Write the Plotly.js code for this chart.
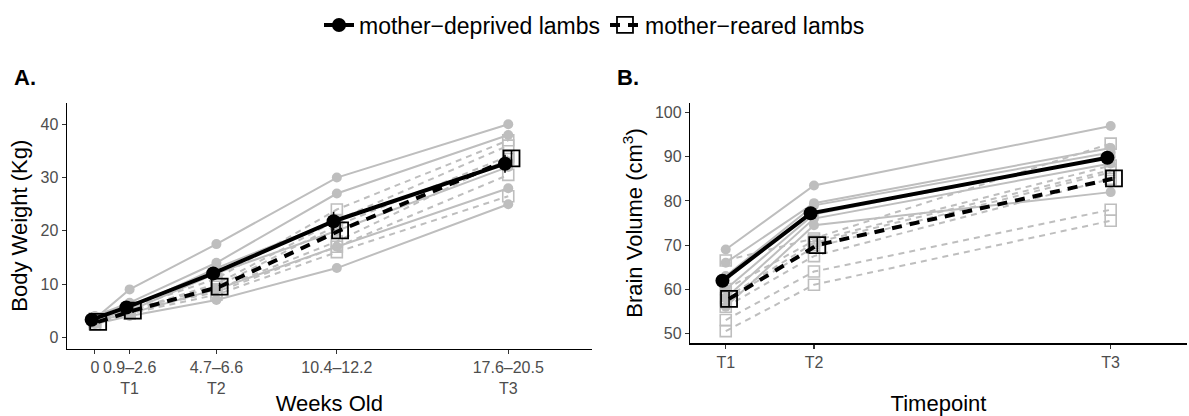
<!DOCTYPE html>
<html>
<head>
<meta charset="utf-8">
<script src="https://cdn.plot.ly/plotly-3.0.1.min.js"></script>
<style>
  html, body { margin: 0; padding: 0; background: #fff; }
  #chart { width: 1189px; height: 416px; }
</style>
</head>
<body>
<div id="chart"></div>
<script>
// ---------- data ----------
// Panel A: body weight (kg) by age (weeks)
const ageTickVals = [0, 1.6, 5.6, 11.15, 19.05];
const ageTickText = ['0', '0.9\u20132.6<br>T1', '4.7\u20136.6<br>T2', '10.4\u201312.2', '17.6\u201320.5<br>T3'];

const weightDeprived = [
  [3.5, 9.0, 17.5, 30.0, 40.0],
  [4.0, 6.5, 14.0, 27.0, 38.0],
  [3.0, 5.5, 13.0, 22.0, 33.0],
  [3.5, 5.0, 12.0, 20.0, 32.0],
  [3.0, 4.5, 9.0, 17.0, 28.0],
  [2.5, 4.0, 7.0, 13.0, 25.0]
];
const weightReared = [
  [3.0, 5.5, 11.0, 24.0, 37.0],
  [3.0, 5.0, 10.0, 22.0, 36.0],
  [3.5, 5.0, 9.5, 21.0, 34.0],
  [2.5, 4.5, 9.0, 18.0, 33.5],
  [3.0, 5.0, 8.5, 17.0, 30.5],
  [2.5, 4.5, 8.0, 16.0, 26.5]
];
const weightMeanDeprived = [3.3, 5.6, 12.0, 21.8, 32.6];
const weightSEDeprived   = [0.25, 0.6, 1.2, 1.8, 1.7];
const weightMeanReared   = [2.9, 5.0, 9.5, 20.1, 33.6];
const weightSEReared     = [0.2, 0.4, 0.8, 1.5, 1.6];

// Panel B: brain volume (cm3) by timepoint
const tpVals = [1.6, 5.6, 19.05];
const tpText = ['T1', 'T2', 'T3'];
const brainDeprived = [
  [69.0, 83.5, 97.0],
  [66.0, 79.5, 92.0],
  [63.0, 79.0, 91.0],
  [60.0, 77.0, 90.0],
  [58.0, 76.0, 88.5],
  [56.0, 74.5, 82.0]
];
const brainReared = [
  [66.5, 71.5, 93.0],
  [60.0, 71.0, 88.0],
  [58.0, 70.5, 87.0],
  [57.5, 69.5, 86.5],
  [56.0, 67.5, 85.0],
  [53.0, 64.0, 78.0],
  [50.5, 61.0, 75.5]
];
const brainMeanDeprived = [61.9, 77.2, 89.8];
const brainSEDeprived   = [1.3, 1.0, 1.4];
const brainMeanReared   = [57.8, 70.0, 85.1];
const brainSEReared     = [1.6, 1.6, 1.7];

const groupNames = ['mother\u2212deprived lambs', 'mother\u2212reared lambs'];

// ---------- styles ----------
const GREY = '#BEBEBE';
const DODGE = 0.15;
const FONT = 'Liberation Sans, Arial, Helvetica, sans-serif';

function shift(xs, d) { return xs.map(v => v + d); }

const traces = [];

function addIndividuals(rows, xs, xa, ya, reared) {
  rows.forEach(r => {
    traces.push({
      type: 'scatter', mode: 'lines+markers',
      x: xs, y: r, xaxis: xa, yaxis: ya,
      showlegend: false, hoverinfo: 'skip', cliponaxis: false,
      line: { color: GREY, width: 2, dash: reared ? '6px,5px' : 'solid' },
      marker: reared
        ? { symbol: 'square-open', size: 11, color: GREY, line: { color: GREY, width: 1.6 } }
        : { symbol: 'circle', size: 10, color: GREY }
    });
  });
}

function addMean(mean, se, xs, xa, ya, reared, legend) {
  traces.push({
    type: 'scatter', mode: 'lines+markers',
    name: reared ? groupNames[1] : groupNames[0],
    legendgroup: reared ? 'r' : 'd',
    showlegend: legend, cliponaxis: false,
    x: shift(xs, reared ? DODGE : -DODGE), y: mean, xaxis: xa, yaxis: ya,
    line: { color: 'black', width: 4, dash: reared ? '10px,8px' : 'solid' },
    marker: reared
      ? { symbol: 'square-open', size: 16, color: 'black', line: { color: 'black', width: 1.8 } }
      : { symbol: 'circle', size: 14, color: 'black' },
    error_y: { type: 'data', array: se, visible: true, color: 'black', thickness: 1.6, width: 0 }
  });
}

addIndividuals(weightDeprived, ageTickVals, 'x', 'y', false);
addIndividuals(weightReared, ageTickVals, 'x', 'y', true);
addIndividuals(brainDeprived, tpVals, 'x2', 'y2', false);
addIndividuals(brainReared, tpVals, 'x2', 'y2', true);
addMean(weightMeanDeprived, weightSEDeprived, ageTickVals, 'x', 'y', false, true);
addMean(weightMeanReared, weightSEReared, ageTickVals, 'x', 'y', true, true);
addMean(brainMeanDeprived, brainSEDeprived, tpVals, 'x2', 'y2', false, false);
addMean(brainMeanReared, brainSEReared, tpVals, 'x2', 'y2', true, false);

const W = 1189, H = 416;
const TITLE_FONT = { family: FONT, size: 22, color: 'black' };
const axisCommon = {
  showline: true, linecolor: 'black', linewidth: 1.2,
  ticks: 'outside', ticklen: 4, tickwidth: 1.1, tickcolor: '#333333',
  tickfont: { family: FONT, size: 16, color: '#4D4D4D' },
  showgrid: false, zeroline: false, fixedrange: true
};

const layout = {
  width: W, height: H,
  margin: { l: 0, r: 0, t: 0, b: 0 },
  paper_bgcolor: 'white', plot_bgcolor: 'white',
  font: { family: FONT, color: 'black' },
  showlegend: true,
  legend: {
    orientation: 'h', x: 0.5, xanchor: 'center', y: 1 - 25 / H, yanchor: 'middle',
    font: { family: FONT, size: 23, color: 'black' }, bgcolor: 'rgba(0,0,0,0)',
    traceorder: 'normal', itemwidth: 30
  },
  xaxis: Object.assign({}, axisCommon, {
    domain: [66.7 / W, 592 / W], range: [-1.30, 22.91], anchor: 'y',
    tickvals: ageTickVals, ticktext: ageTickText,
    title: { text: 'Weeks Old', font: TITLE_FONT, standoff: 2 }
  }),
  yaxis: Object.assign({}, axisCommon, {
    domain: [1 - 348.7 / H, 1 - 102.7 / H], range: [-2.14, 44.06], anchor: 'x',
    tickvals: [0, 10, 20, 30, 40],
    title: { text: 'Body Weight (Kg)', font: TITLE_FONT, standoff: 6 }
  }),
  xaxis2: Object.assign({}, axisCommon, {
    domain: [690 / W, 1187 / W], range: [-0.02, 22.51], anchor: 'y2',
    tickvals: tpVals, ticktext: tpText,
    title: { text: 'Timepoint', font: TITLE_FONT, standoff: 27 }
  }),
  yaxis2: Object.assign({}, axisCommon, {
    domain: [1 - 343.3 / H, 1 - 102.7 / H], range: [47.73, 102.27], anchor: 'x2',
    tickvals: [50, 60, 70, 80, 90, 100],
    title: { text: 'Brain Volume (cm<sup>3</sup>)', font: TITLE_FONT, standoff: 6 }
  }),
  annotations: [
    { text: '<b>A.</b>', xref: 'paper', yref: 'paper', x: 12 / W, y: 1 - 77 / H,
      xanchor: 'left', yanchor: 'middle', showarrow: false, font: { family: FONT, size: 22, color: 'black' } },
    { text: '<b>B.</b>', xref: 'paper', yref: 'paper', x: 615 / W, y: 1 - 77 / H,
      xanchor: 'left', yanchor: 'middle', showarrow: false, font: { family: FONT, size: 22, color: 'black' } }
  ]
};

Plotly.newPlot('chart', traces, layout, { displayModeBar: false, staticPlot: true });
</script>
</body>
</html>
